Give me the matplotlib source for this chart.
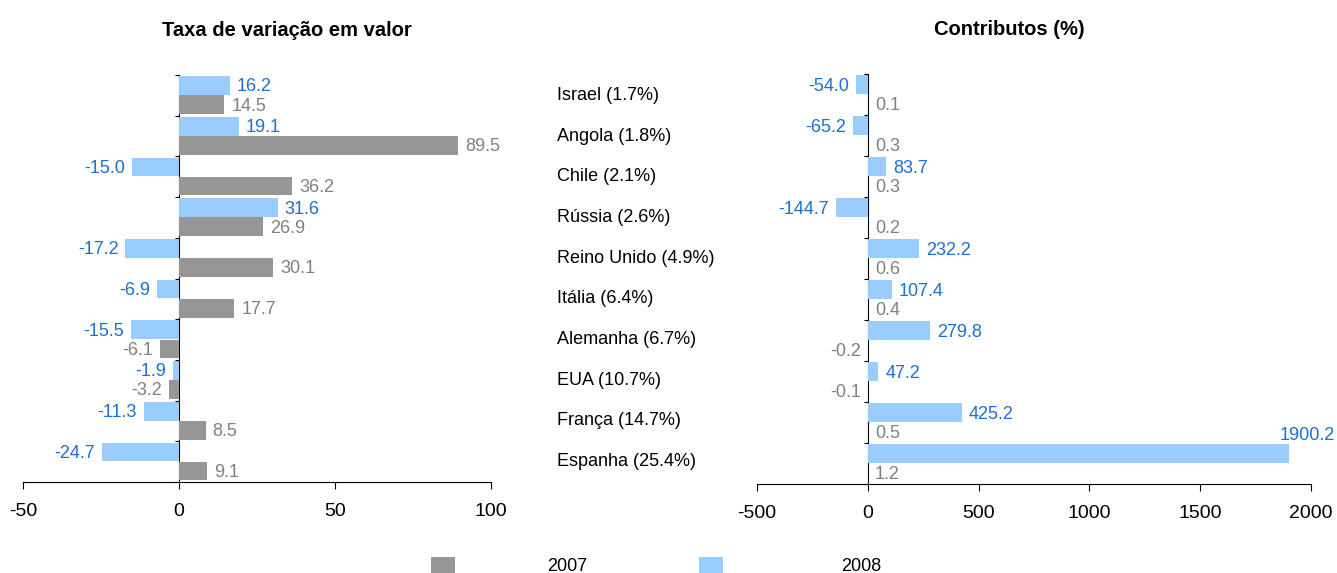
import numpy as np
import matplotlib.pyplot as plt
import matplotlib.transforms as mtransforms

plt.rcParams['font.family'] = ['Liberation Sans', 'DejaVu Sans']

paises = ['Israel (1.7%)', 'Angola (1.8%)', 'Chile (2.1%)', 'Rússia (2.6%)',
          'Reino Unido (4.9%)', 'Itália (6.4%)', 'Alemanha (6.7%)', 'EUA (10.7%)',
          'França (14.7%)', 'Espanha (25.4%)']

taxa_2008 = [16.2, 19.1, -15.0, 31.6, -17.2, -6.9, -15.5, -1.9, -11.3, -24.7]
taxa_2007 = [14.5, 89.5, 36.2, 26.9, 30.1, 17.7, -6.1, -3.2, 8.5, 9.1]

contrib_2008 = [-54.0, -65.2, 83.7, -144.7, 232.2, 107.4, 279.8, 47.2, 425.2, 1900.2]
contrib_2007 = [0.1, 0.3, 0.3, 0.2, 0.6, 0.4, -0.2, -0.1, 0.5, 1.2]

cinza = '#969696'
azul = '#99ccff'
azul_txt = '#1f6fd0'
cinza_txt = '#808080'

W, H = 1337, 573
fig = plt.figure(figsize=(W / 100, H / 100), dpi=100)
ax1 = fig.add_axes([23 / W, 91 / H, 468 / W, 407 / H])
ax2 = fig.add_axes([757 / W, 89 / H, 554 / W, 410 / H])

n = len(paises)
y = np.arange(n)
h = 0.46
fs = 13


def painel(ax, v08, v07, xlim, xticks, titulo, tx):
    ax.barh(y - 0.24, v08, height=h, color=azul, label='2008')
    ax.barh(y + 0.23, v07, height=h, color=cinza, label='2007')
    ax.set_xlim(*xlim)
    ax.set_ylim(n - 0.5, -0.5)
    ax.set_xticks(xticks)
    ax.set_xticklabels([str(t) for t in xticks], fontsize=14)
    ax.set_yticks(np.arange(n + 1) - 0.5)
    ax.set_yticklabels([])
    ax.spines['top'].set_visible(False)
    ax.spines['right'].set_visible(False)
    ax.spines['left'].set_position(('data', 0))
    ax.spines['left'].set_zorder(0)
    ax.tick_params(axis='x', direction='out', length=5, pad=10)
    ax.tick_params(axis='y', direction='out', length=3)
    for vals, off, cor in ((v08, -0.24, azul_txt), (v07, 0.23, cinza_txt)):
        for i, v in enumerate(vals):
            if v > 1800:
                # rotulo sem espaco a direita: vai por cima da barra
                ax.annotate(f'{v:.1f}', (v, i + off - h / 2), xytext=(13, 0),
                            textcoords='offset points', ha='center', va='bottom',
                            color=cor, fontsize=fs)
                continue
            if v >= 0:
                ax.annotate(f'{v:.1f}', (v, i + off), xytext=(5, -1),
                            textcoords='offset points', ha='left', va='center',
                            color=cor, fontsize=fs)
            else:
                ax.annotate(f'{v:.1f}', (v, i + off), xytext=(-5, -1),
                            textcoords='offset points', ha='right', va='center',
                            color=cor, fontsize=fs)
    ax.set_title(titulo, fontsize=14.5, fontweight='bold', pad=28, x=tx)


painel(ax1, taxa_2008, taxa_2007, (-50, 100), [-50, 0, 50, 100],
       'Taxa de variação em valor', 0.564)
painel(ax2, contrib_2008, contrib_2007, (-500, 2000), [-500, 0, 500, 1000, 1500, 2000],
       'Contributos (%)', 0.455)

trans = mtransforms.blended_transform_factory(fig.transFigure, ax1.transData)
for i, p in enumerate(paises):
    ax1.text(557 / W, i, p, transform=trans, ha='left', va='center',
             fontsize=fs, clip_on=False)

handles, labels = ax1.get_legend_handles_labels()
fig.legend([handles[1]], [labels[1]], loc='center left',
           bbox_to_anchor=(431 / W, 7 / H), frameon=False,
           fontsize=fs, handlelength=1.35, handleheight=1.0, handletextpad=5.1,
           borderpad=0, borderaxespad=0)
fig.legend([handles[0]], [labels[0]], loc='center left',
           bbox_to_anchor=(699 / W, 7 / H), frameon=False,
           fontsize=fs, handlelength=1.35, handleheight=1.0, handletextpad=6.5,
           borderpad=0, borderaxespad=0)

fig.savefig('out.png', dpi=100)
